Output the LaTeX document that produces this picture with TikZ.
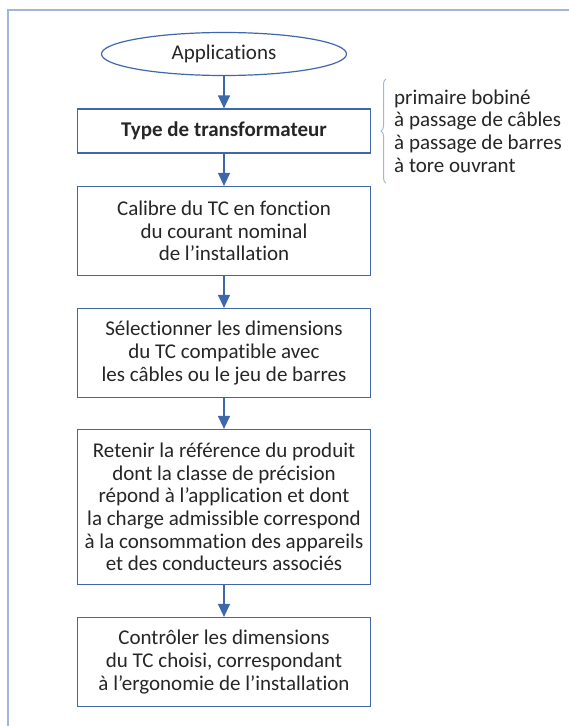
\documentclass[tikz,border=0pt]{standalone}
\usepackage{fontspec}
\setmainfont{Carlito}[Ligatures = NoCommon]
\usetikzlibrary{arrows.meta}
\usetikzlibrary{shapes}
\usetikzlibrary{decorations.pathreplacing}
\definecolor{tcblue}{HTML}{3F67AB}
\definecolor{framecol}{HTML}{9FB5DB}
\definecolor{txtcol}{HTML}{262626}

\begin{document}
\begin{tikzpicture}[x = 1pt, y = -1pt, font=\fontsize{21}{22.6}\selectfont]
	\tikzstyle{stepBox} = [draw = tcblue, line width = 1.2pt, text = txtcol, align = center, minimum width = 293pt, inner sep = 2pt]
	\tikzstyle{startStyle} = [shape = ellipse, draw = tcblue, line width = 1.2pt, text = txtcol, minimum width = 245pt, minimum height = 43pt, inner sep = 0pt]
	\tikzstyle{flowArrow} = [draw = tcblue, line width = 1.2pt, -{Triangle[width = 12pt, length = 13pt]}]
	\useasboundingbox (0, 0) rectangle (569, 726);
	\draw[framecol, line width = 1.6pt] (8, 726) -- (8, 10) -- (569, 10);
	\node[startStyle] (apps) at (224, 54) {Applications};
	\node[stepBox, minimum height = 44pt, font = \fontsize{21}{22.6}\selectfont\bfseries] (type) at (224, 131) {Type de transformateur};
	\node[stepBox, minimum height = 89pt] (calibre) at (224, 231) {Calibre du TC en fonction\\du courant nominal\\de l’installation};
	\node[stepBox, minimum height = 89pt] (select) at (224, 353) {Sélectionner les dimensions\\du TC compatible avec\\les câbles ou le jeu de barres};
	\node[stepBox, minimum height = 155pt] (retenir) at (224, 507) {Retenir la référence du produit\\dont la classe de précision\\répond à l’application et dont\\la charge admissible correspond\\à la consommation des appareils\\et des conducteurs associés};
	\node[stepBox, minimum height = 89pt] (control) at (224, 662) {Contrôler les dimensions\\du TC choisi, correspondant\\à l’ergonomie de l’installation};
	\draw[flowArrow] (apps) -- (type);
	\draw[flowArrow] (type) -- (calibre);
	\draw[flowArrow] (calibre) -- (select);
	\draw[flowArrow] (select) -- (retenir);
	\draw[flowArrow] (retenir) -- (control);
	% types of transformer
	\coordinate (braceLow) at (386, 183);
	\coordinate (braceHigh) at (386, 79);
	\draw[framecol, line width = 1pt, decorate, decoration = {brace, amplitude = 5pt}] (braceLow) -- (braceHigh);
	\node[anchor = west, align = left, text = txtcol, inner sep = 0pt] (kinds) at (394, 131) {primaire bobiné\\à passage de câbles\\à passage de barres\\à tore ouvrant};
\end{tikzpicture}
\end{document}
